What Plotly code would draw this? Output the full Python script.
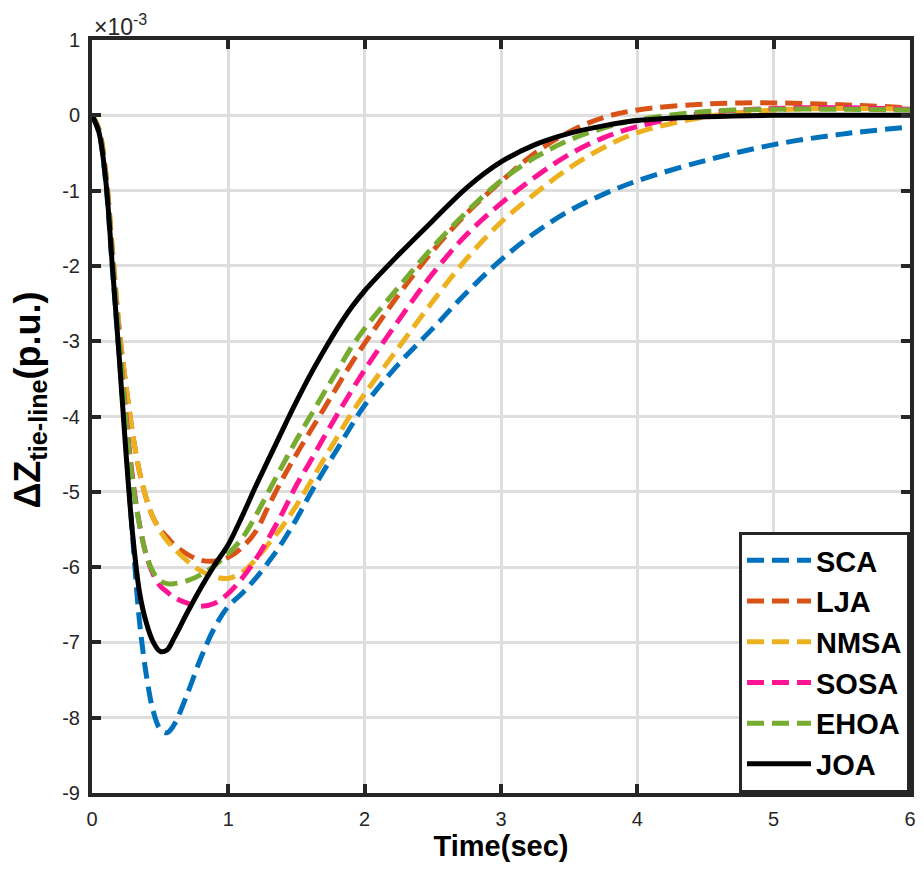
import plotly.graph_objects as go

# Time axis (sec)
time = [0, 0.05, 0.1, 0.15, 0.2, 0.25, 0.3, 0.35, 0.4, 0.45, 0.5, 0.55, 0.6,
        0.7, 0.8, 0.9, 1.0, 1.1, 1.2, 1.3, 1.4, 1.5, 1.6, 1.7, 1.8, 1.9, 2.0,
        2.25, 2.5, 2.75, 3.0, 3.25, 3.5, 3.75, 4.0, 4.5, 5.0, 5.5, 6.0]

# Delta Z tie-line values (x 1e-3 p.u.)
sca = [0, -0.22, -0.88, -2.05, -3.2, -4.4, -5.65, -6.75, -7.45, -7.92, -8.15, -8.2, -8.1,
       -7.68, -7.2, -6.8, -6.52, -6.35, -6.15, -5.92, -5.66, -5.36, -5.03, -4.72, -4.43, -4.13, -3.85,
       -3.3, -2.83, -2.35, -1.92, -1.56, -1.27, -1.05, -0.87, -0.6, -0.39, -0.25, -0.155]
lja = [0, -0.18, -0.75, -1.8, -2.85, -3.6, -4.25, -4.75, -5.1, -5.35, -5.5, -5.6, -5.7,
       -5.83, -5.91, -5.92, -5.87, -5.74, -5.53, -5.17, -4.82, -4.5, -4.2, -3.9, -3.6, -3.3, -3.03,
       -2.38, -1.8, -1.3, -0.88, -0.5, -0.22, -0.03, 0.07, 0.15, 0.165, 0.14, 0.1]
nmsa = [0, -0.18, -0.75, -1.8, -2.85, -3.6, -4.25, -4.75, -5.1, -5.35, -5.52, -5.65, -5.75,
        -5.92, -6.05, -6.13, -6.15, -6.07, -5.9, -5.68, -5.45, -5.18, -4.88, -4.57, -4.27, -3.97, -3.7,
        -3.08, -2.47, -1.9, -1.42, -1.04, -0.7, -0.43, -0.23, -0.02, 0.07, 0.09, 0.08]
sosa = [0, -0.2, -0.8, -1.9, -3.0, -4.0, -4.85, -5.45, -5.85, -6.1, -6.25, -6.33, -6.4,
        -6.48, -6.52, -6.48, -6.35, -6.15, -5.9, -5.6, -5.27, -4.91, -4.6, -4.28, -3.97, -3.67, -3.38,
        -2.72, -2.1, -1.58, -1.17, -0.82, -0.52, -0.3, -0.15, 0.03, 0.09, 0.1, 0.08]
ehoa = [0, -0.2, -0.8, -1.9, -3.0, -4.05, -4.9, -5.45, -5.85, -6.07, -6.18, -6.22, -6.22,
        -6.18, -6.1, -5.98, -5.82, -5.62, -5.32, -4.98, -4.64, -4.31, -4.0, -3.69, -3.39, -3.09, -2.83,
        -2.28, -1.75, -1.28, -0.87, -0.56, -0.33, -0.17, -0.06, 0.05, 0.08, 0.08, 0.07]
joa = [0, -0.22, -0.85, -2.02, -3.22, -4.5, -5.6, -6.35, -6.75, -7.0, -7.12, -7.1, -6.95,
       -6.6, -6.27, -5.97, -5.7, -5.33, -4.93, -4.55, -4.17, -3.8, -3.45, -3.13, -2.83, -2.56, -2.33,
       -1.85, -1.4, -0.96, -0.62, -0.39, -0.24, -0.14, -0.07, -0.02, 0, 0, 0]

names = ["SCA", "LJA", "NMSA", "SOSA", "EHOA", "JOA"]
series = [sca, lja, nmsa, sosa, ehoa, joa]
colors = ["#0072BD", "#D95319", "#EDB120", "#FF1493", "#77AC30", "#000000"]
dashes = ["17px,8px"] * 5 + ["solid"]

x_ticks = [0, 1, 2, 3, 4, 5, 6]
x_labels = ["0", "1", "2", "3", "4", "5", "6"]
y_ticks = [-9, -8, -7, -6, -5, -4, -3, -2, -1, 0, 1]
y_labels = ["-9", "-8", "-7", "-6", "-5", "-4", "-3", "-2", "-1", "0", "1"]

fig = go.Figure()
for name, vals, col, dash in zip(names, series, colors, dashes):
    fig.add_trace(go.Scatter(
        x=time, y=vals, mode="lines", name=name, legendgroup=name,
        line=dict(color=col, width=5, dash=dash, shape="spline", smoothing=1.0),
    ))

FONT = "Liberation Sans, Arial"
axis_common = dict(
    showline=True, linecolor="#262626", linewidth=4, mirror="ticks",
    ticks="inside", ticklen=9, tickwidth=4, tickcolor="#262626",
    showgrid=True, gridcolor="#DEDEDE", gridwidth=2.5, zeroline=False,
    tickfont=dict(family=FONT, size=20, color="#262626"),
    automargin=False,
)

fig.update_xaxes(range=[0, 6], tickvals=x_ticks, ticktext=x_labels, ticklabelstandoff=5,
                 title=dict(text="<b>Time(sec)</b>", font=dict(family=FONT, size=29, color="#000000"), standoff=8),
                 **axis_common)
fig.update_yaxes(range=[-9, 1], tickvals=y_ticks, ticktext=y_labels, ticklabelstandoff=4,
                 **axis_common)

# y-axis title (as an annotation so it can sit where the reference has it)
fig.add_annotation(text="<b>ΔZ<sub>tie-line</sub>(p.u.)</b>", xref="paper", yref="paper",
                   x=0, y=0.5, xanchor="center", yanchor="middle", textangle=-90,
                   xshift=-63, yshift=16, showarrow=False,
                   font=dict(family=FONT, size=36, color="#000000"))

fig.add_annotation(text="×10<sup>-3</sup>", xref="paper", yref="paper", x=0, y=1,
                   xanchor="left", yanchor="bottom", showarrow=False, yshift=-2, xshift=0,
                   font=dict(family=FONT, size=23, color="#262626"))

# the page adds an 8px body margin, so the figure is sized to fit the window inside it
fig.update_layout(
    width=908, height=855,
    margin=dict(l=84, r=6, t=32, b=70),
    paper_bgcolor="white", plot_bgcolor="white",
    legend=dict(x=1, y=0, xanchor="right", yanchor="bottom",
                bgcolor="white", bordercolor="#262626", borderwidth=3,
                font=dict(family=FONT, size=29, color="#000000", weight="bold"),
                itemwidth=64, tracegroupgap=0),
    showlegend=True,
)

fig.write_html("out.html")
